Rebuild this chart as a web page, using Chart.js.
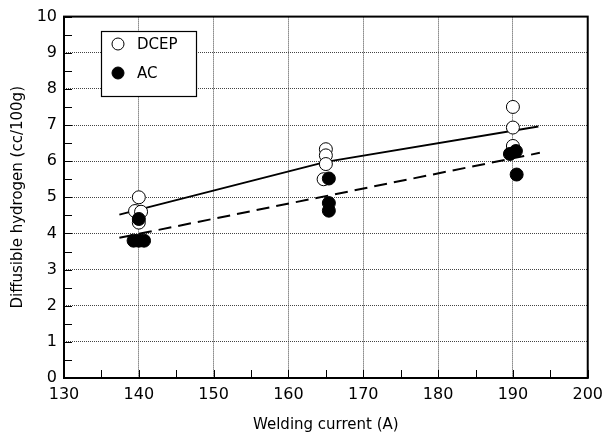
<!DOCTYPE html>
<html>
<head>
<meta charset="utf-8">
<script src="https://cdn.jsdelivr.net/npm/chart.js@4/dist/chart.umd.min.js"></script>
<style>
  html, body { margin: 0; padding: 0; background: #fff; }
  #wrap { width: 610px; height: 441px; }
</style>
</head>
<body>
<div id="wrap"><canvas id="myChart" width="610" height="441"></canvas></div>
<script>
// measured points (welding current A, hydrogen cc/100g)
var dcepX = [140, 139.5, 140.3, 140, 165, 165, 165, 164.7, 190, 190, 190];
var dcepY = [5.0, 4.62, 4.6, 4.3, 6.33, 6.16, 5.92, 5.5, 7.5, 6.93, 6.42];
var acX = [140, 139.3, 140, 140.7, 165.4, 165.4, 165.4, 189.6, 190.4, 190.5];
var acY = [4.4, 3.8, 3.8, 3.8, 5.52, 4.84, 4.63, 6.2, 6.28, 5.63];

// trend lines
var dcepFitX = [137.4, 165, 193.4];
var dcepFitY = [4.52, 5.98, 6.96];
var acFitX = [137.4, 193.6];
var acFitY = [3.88, 6.23];

var xTicks = [130, 140, 150, 160, 170, 180, 190, 200];
var yTicks = [0, 1, 2, 3, 4, 5, 6, 7, 8, 9, 10];

function pts(xs, ys) {
  return xs.map(function (x, i) { return { x: x, y: ys[i] }; });
}

var FONT = "'DejaVu Sans', Verdana, sans-serif";

// frame, inward ticks and legend box
var extras = {
  id: "extras",
  afterDatasetsDraw: function (chart) {
    var ctx = chart.ctx;
    var a = chart.chartArea;
    var xs = chart.scales.x, ys = chart.scales.y;
    ctx.save();
    ctx.strokeStyle = "#000";
    ctx.lineWidth = 1;
    ctx.setLineDash([]);
    ctx.beginPath();
    for (var v = 0; v <= 10; v += 0.5) {
      var py = Math.round(ys.getPixelForValue(v)) + 0.5;
      ctx.moveTo(a.left, py);
      ctx.lineTo(a.left + 8, py);
    }
    for (var u = 130; u <= 200; u += 5) {
      var px = Math.round(xs.getPixelForValue(u)) + 0.5;
      ctx.moveTo(px, a.bottom);
      ctx.lineTo(px, a.bottom - 8);
    }
    ctx.stroke();
    ctx.lineWidth = 2;
    ctx.strokeRect(a.left, a.top, a.right - a.left, a.bottom - a.top);

    // legend
    var lx = 101, ly = 31, lw = 95, lh = 65;
    ctx.fillStyle = "#fff";
    ctx.fillRect(lx, ly, lw, lh);
    ctx.lineWidth = 1.2;
    ctx.strokeRect(lx + 0.5, ly + 0.5, lw, lh);
    var items = [["DCEP", false], ["AC", true]];
    ctx.font = "15px " + FONT;
    ctx.textBaseline = "middle";
    items.forEach(function (it, i) {
      var cy = ly + 13 + i * 29;
      ctx.beginPath();
      ctx.arc(lx + 17, cy, 6, 0, Math.PI * 2);
      ctx.fillStyle = it[1] ? "#000" : "#fff";
      ctx.fill();
      ctx.strokeStyle = "#000";
      ctx.lineWidth = 1;
      ctx.stroke();
      ctx.fillStyle = "#000";
      ctx.fillText(it[0], lx + 36, cy + 1);
    });
    ctx.restore();
  }
};

new Chart("myChart", {
  type: "scatter",
  data: {
    datasets: [
      {
        label: "AC",
        data: pts(acX, acY),
        pointRadius: 6.5,
        pointBackgroundColor: "#000",
        pointBorderColor: "#000",
        pointBorderWidth: 1,
        order: 0
      },
      {
        label: "DCEP",
        data: pts(dcepX, dcepY),
        pointRadius: 6.5,
        pointBackgroundColor: "#fff",
        pointBorderColor: "#000",
        pointBorderWidth: 1,
        order: 1
      },
      {
        label: "DCEP fit",
        data: pts(dcepFitX, dcepFitY),
        showLine: true,
        tension: 0,
        pointRadius: 0,
        borderColor: "#000",
        borderWidth: 2,
        order: 2
      },
      {
        label: "AC fit",
        data: pts(acFitX, acFitY),
        showLine: true,
        pointRadius: 0,
        borderColor: "#000",
        borderWidth: 2,
        borderDash: [13, 7],
        order: 2
      }
    ]
  },
  options: {
    responsive: false,
    animation: false,
    events: [],
    layout: { padding: { top: 13, right: 16, left: 0, bottom: 0 } },
    plugins: {
      legend: { display: false },
      tooltip: { enabled: false }
    },
    scales: {
      x: {
        type: "linear",
        min: 130,
        max: 200,
        afterBuildTicks: function (s) { s.ticks = xTicks.map(function (v) { return { value: v }; }); },
        afterFit: function (s) { s.height = 63; },
        grid: { color: "#444", lineWidth: 1, drawTicks: false },
        border: { display: false, dash: [1, 1] },
        ticks: { color: "#000", font: { family: FONT, size: 16 }, padding: 7, maxRotation: 0 },
        title: {
          display: true,
          text: "Welding current (A)",
          color: "#000",
          font: { family: FONT, size: 15 },
          padding: { top: 0, bottom: 7 }
        }
      },
      y: {
        type: "linear",
        min: 0,
        max: 10,
        afterBuildTicks: function (s) { s.ticks = yTicks.map(function (v) { return { value: v }; }); },
        afterFit: function (s) { s.width = 64; },
        grid: { color: "#444", lineWidth: 1, drawTicks: false },
        border: { display: false, dash: [1, 1] },
        ticks: { color: "#000", font: { family: FONT, size: 16 }, padding: 7 },
        title: {
          display: true,
          text: "Diffusible hydrogen (cc/100g)",
          color: "#000",
          font: { family: FONT, size: 15 },
          padding: { top: 9, bottom: 0 }
        }
      }
    }
  },
  plugins: [extras]
});
</script>
</body>
</html>
